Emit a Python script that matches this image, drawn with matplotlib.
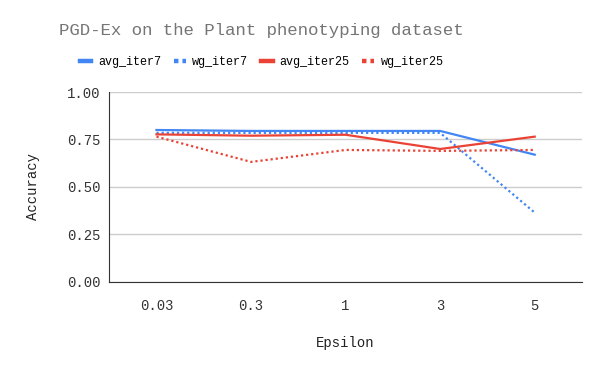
import matplotlib
matplotlib.use('Agg')
import numpy as np
import matplotlib.pyplot as plt

# data
epsilons = ["0.03", "0.3", "1", "3", "5"]
avg_iter7 = [0.80, 0.795, 0.795, 0.795, 0.67]
wg_iter7 = [0.785, 0.785, 0.785, 0.785, 0.365]
avg_iter25 = [0.777, 0.77, 0.775, 0.70, 0.765]
wg_iter25 = [0.765, 0.632, 0.695, 0.69, 0.695]

BLUE = "#4285F4"
RED = "#EA4335"
FONT = ["Liberation Mono", "DejaVu Sans Mono"]


def main() -> None:
    plt.rcParams['font.family'] = FONT
    fig = plt.figure(figsize=(6, 3.71), dpi=100)
    ax = fig.add_axes([0.182, 0.240, 0.788, 0.512])

    x = np.arange(len(epsilons))
    dots = (0, (1, 1.3))
    ax.plot(x, avg_iter7, color=BLUE, lw=1.6, label="avg_iter7")
    ax.plot(x, wg_iter7, color=BLUE, lw=1.6, ls=dots, label="wg_iter7")
    ax.plot(x, avg_iter25, color=RED, lw=1.6, label="avg_iter25")
    ax.plot(x, wg_iter25, color=RED, lw=1.6, ls=dots, label="wg_iter25")

    ax.set_xlim(-0.5, len(epsilons) - 0.5)
    ax.set_ylim(0, 1)
    ax.set_xticks(x)
    ax.set_xticklabels(epsilons)
    ax.set_yticks([0, 0.25, 0.5, 0.75, 1.0])
    ax.set_yticklabels(["%.2f" % v for v in [0, 0.25, 0.5, 0.75, 1.0]])
    ax.tick_params(length=0, labelsize=10, colors="#333333", pad=6)
    ax.tick_params(axis="x", pad=12)

    ax.grid(True, axis="y", color="#cccccc", lw=1)
    ax.set_axisbelow(True)
    for s in ["top", "right"]:
        ax.spines[s].set_visible(False)
    ax.spines["left"].set_color("#333333")
    ax.spines["bottom"].set_color("#333333")

    ax.set_xlabel("Epsilon", fontsize=10, color="#222222", labelpad=17)
    ax.set_ylabel("Accuracy", fontsize=10, color="#222222", labelpad=20)

    fig.text(0.436, 0.918, "PGD-Ex on the Plant phenotyping dataset",
             ha="center", va="center", fontsize=12.5, color="#757575")
    leg = fig.legend(loc="center", bbox_to_anchor=(0.436, 0.833), ncol=4,
                     frameon=False, fontsize=8.5, handlelength=1.0,
                     handletextpad=0.55, columnspacing=1.1)
    for h in leg.legend_handles:
        h.set_linewidth(3.2)
        if h.get_linestyle() != "-":
            h.set_linestyle((0, (1, 0.9)))

    fig.savefig("out.png", dpi=100)


if __name__ == "__main__":
    main()
